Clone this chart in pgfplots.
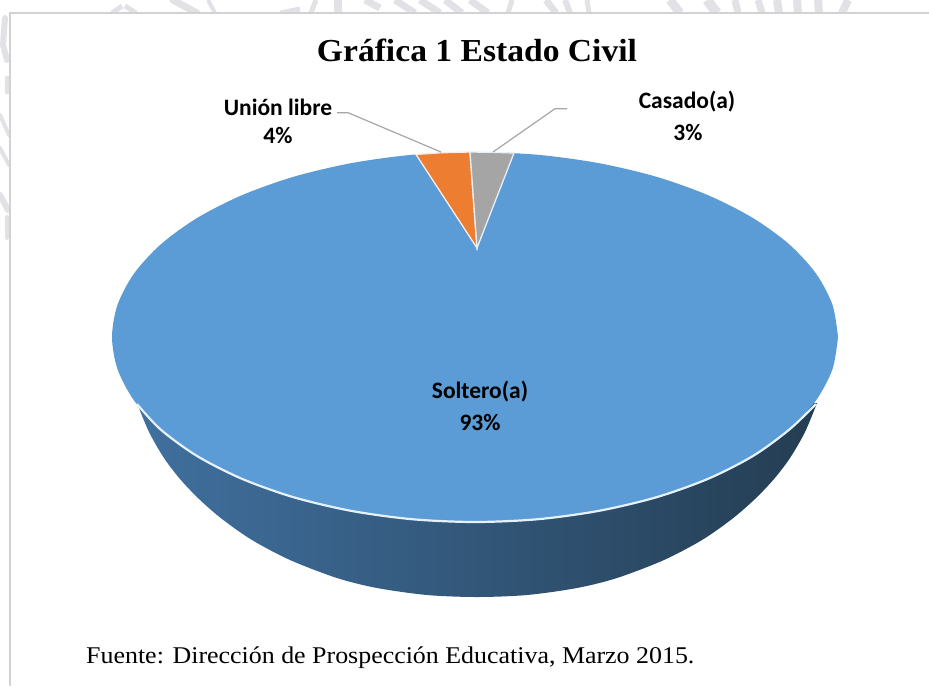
\documentclass[border=0pt]{standalone}
\usepackage{pgfplots}
\pgfplotsset{compat=1.18}
\usepackage{fontspec}
\setmainfont{Carlito}
\newfontfamily\titlefont[FakeStretch=1.05]{Liberation Serif}
\newfontfamily\sourcefont[FakeStretch=1.08]{Liberation Serif}
\definecolor{pieblue}{HTML}{5B9BD6}
\definecolor{pieor}{HTML}{ED7D31}
\definecolor{piegr}{HTML}{A5A5A5}
\definecolor{frameg}{HTML}{D2D2D2}
\definecolor{leader}{HTML}{A6A6A6}
\definecolor{wm}{HTML}{E2E2E6}
\definecolor{rim}{HTML}{E6F2FB}
\definecolor{wallL}{HTML}{40709F}
\definecolor{wallM}{HTML}{2A4764}
\definecolor{wallR}{HTML}{243D52}
\begin{document}
\begin{tikzpicture}
\begin{axis}[
  scale only axis, width=929pt, height=686pt,
  xmin=0, xmax=929, ymin=0, ymax=686, y dir=reverse,
  hide axis, clip=true]
% watermark remnants above and left of the frame
\addplot[wm, line width=7pt, line cap=round, forget plot] coordinates {(173,0) (197,13)};
\addplot[wm, line width=4pt, forget plot] coordinates {(208,0) (215,13)};
\addplot[wm, line width=5pt, forget plot] coordinates {(112,13) (122,6)};
\addplot[wm, line width=5pt, forget plot] coordinates {(125,6) (136,13)};
\addplot[wm, line width=5pt, forget plot] coordinates {(280,13) (300,9)};
\addplot[wm, line width=5pt, forget plot] coordinates {(316,0) (311,13)};
\addplot[wm, line width=8pt, forget plot] coordinates {(338,0) (338,13)};
\addplot[wm, line width=7pt, forget plot] coordinates {(365,0) (380,8)};
\addplot[wm, line width=7pt, forget plot] coordinates {(395,0) (415,13)};
\addplot[wm, line width=7pt, forget plot] coordinates {(420,0) (440,13)};
\addplot[wm, line width=7pt, forget plot] coordinates {(445,0) (462,13)};
\addplot[wm, line width=7pt, forget plot] coordinates {(470,0) (488,13)};
\addplot[wm, line width=5pt, forget plot] coordinates {(512,0) (508,13)};
\addplot[wm, line width=7pt, forget plot] coordinates {(546,0) (556,13)};
\addplot[wm, line width=6pt, forget plot] coordinates {(565,0) (570,13)};
\addplot[wm, line width=5pt, forget plot] coordinates {(587,0) (589,13)};
\addplot[wm, line width=9pt, forget plot] coordinates {(670,0) (680,13)};
\addplot[wm, line width=10pt, forget plot] coordinates {(707,0) (717,13)};
\addplot[wm, line width=7pt, forget plot] coordinates {(735,0) (738,13)};
\addplot[wm, line width=7pt, forget plot] coordinates {(758,0) (762,13)};
\addplot[wm, line width=8pt, forget plot] coordinates {(777,0) (779,13)};
\addplot[wm, line width=8pt, forget plot] coordinates {(797,0) (798,13)};
\addplot[wm, line width=8pt, forget plot] coordinates {(818,0) (819,13)};
\addplot[wm, line width=8pt, forget plot] coordinates {(848,0) (842,13)};
\addplot[wm, line width=6pt, line cap=round, forget plot] coordinates {(5,18) (3,45) (7,60)};
\addplot[wm, line width=5pt, line cap=round, forget plot] coordinates {(7,78) (7,92)};
\addplot[wm, line width=4pt, line cap=round, forget plot] coordinates {(0,115) (9,135)};
\addplot[wm, line width=4pt, line cap=round, forget plot] coordinates {(0,148) (9,165)};
\addplot[wm, line width=6pt, line cap=round, forget plot] coordinates {(0,195) (8,210)};
\addplot[wm, line width=4pt, line cap=round, forget plot] coordinates {(7,217) (7,238)};
% white panel and frame
\addplot[fill=white, draw=none, forget plot] coordinates {(10,13) (929,13) (929,686) (10,686)} -- cycle;
\addplot[frameg, line width=1.4pt, forget plot] coordinates {(10,686) (10,13) (929,13)};
% side wall
\addplot[draw=none, smooth, shade, left color=wallL, middle color=wallM, right color=wallR, forget plot]
 coordinates {(137,403) (149,432) (164,458) (180,479) (199,499) (222,519) (252,540) (290,560) (337,578) (377,588) (427,595) (477,597)
  (527,595) (577,588) (617,578) (664,560) (702,540) (732,519) (755,499) (774,479) (790,458) (805,432) (817,403)};
% top face, Soltero(a) 93%
\addplot[fill=pieblue, draw=none, smooth, forget plot] coordinates {
 (838,337) (832.5,304.9) (816.1,273.7) (789.4,244.5) (753.1,218.1) (708.3,195.3) (656.5,176.8) (599.1,163.2) (538,154.8)
 (475,152) (412,154.8) (350.9,163.2) (293.5,176.8) (241.7,195.3) (196.9,218.1) (160.6,244.5) (133.9,273.7) (117.5,304.9)
 (112,337) (117.5,369.1) (133.9,400.3) (160.6,429.5) (196.9,455.9) (241.7,478.7) (293.5,497.2) (350.9,510.8) (412,519.2)
 (475,522) (538,519.2) (599.1,510.8) (656.5,497.2) (708.3,478.7) (753.1,455.9) (789.4,429.5) (816.1,400.3) (832.5,369.1) (838,337)};
% rim
\addplot[rim, line width=2.2pt, smooth, forget plot] coordinates {
 (137,404) (160.6,429.5) (196.9,455.9) (241.7,478.7) (293.5,497.2) (350.9,510.8) (412,519.2)
 (475,522) (538,519.2) (599.1,510.8) (656.5,497.2) (708.3,478.7) (753.1,455.9) (789.4,429.5) (816,404)};
% slices Union libre 4%, Casado(a) 3%
\addplot[fill=pieor, draw=white!85!pieor, line width=1.3pt, forget plot] coordinates {(477,248) (416,154.5) (440,152.8) (470,152)} -- cycle;
\addplot[fill=piegr, draw=white!85!pieblue, line width=1.3pt, forget plot] coordinates {(477,248) (470,152) (492,152.3) (514,153)} -- cycle;
% leaders
\addplot[leader, line width=1.2pt, forget plot] coordinates {(337,112.7) (348,112.7) (441,152)};
\addplot[leader, line width=1.2pt, forget plot] coordinates {(567,108.7) (555,108.7) (493,152)};
% text
\node[font=\titlefont\bfseries\fontsize{32}{34}\selectfont, anchor=base] at (axis cs:477,61) {Gráfica 1 Estado Civil};
\node[font=\bfseries\fontsize{23.5}{26}\selectfont] at (axis cs:278,107) {Unión libre};
\node[font=\bfseries\fontsize{23.5}{26}\selectfont] at (axis cs:278,135) {4\%};
\node[font=\bfseries\fontsize{23.5}{26}\selectfont] at (axis cs:687,102) {Casado(a)};
\node[font=\bfseries\fontsize{23.5}{26}\selectfont] at (axis cs:688,132) {3\%};
\node[font=\bfseries\fontsize{23.5}{26}\selectfont] at (axis cs:480,392) {Soltero(a)};
\node[font=\bfseries\fontsize{23.5}{26}\selectfont] at (axis cs:480,422) {93\%};
\node[font=\sourcefont\fontsize{24}{26}\selectfont, anchor=base west, inner sep=0pt] at (axis cs:86,663) {Fuente: Dirección de Prospección Educativa, Marzo 2015.};
\end{axis}
\end{tikzpicture}
\end{document}
